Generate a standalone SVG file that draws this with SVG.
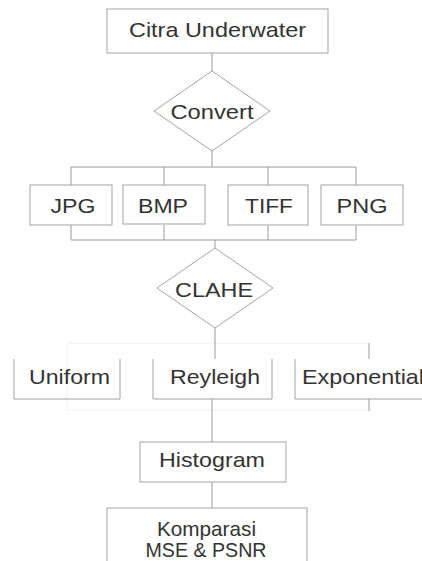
<svg xmlns="http://www.w3.org/2000/svg" width="422" height="561" viewBox="0 0 422 561">
<style>
.b{fill:#fff;stroke:#a3a3a3;stroke-width:1}
.e{fill:none;stroke:#a3a3a3;stroke-width:1}
.c{fill:none;stroke:#9a9a9a;stroke-width:1}
.f{fill:none;stroke:#f0f0f0;stroke-width:1}
text{font-family:"Liberation Sans",Arial,sans-serif;font-size:21px;fill:#333;text-anchor:middle}
</style>
<rect width="422" height="561" fill="#fff"/>
<g id="connectors">
<path class="c" d="M212 53V71M212 151V167M71 167H356M71 167V185M164 167V185M268 167V185M356 167V185"/>
<path class="c" d="M71 225V240M164 225V240M268 225V240M356 225V240M71 240H356M215 240V248"/>
<path class="f" d="M67 343H369M67 343V410M67 410H369"/>
<path class="c" d="M215 328V359M369 343V359M369 399V411M212 399V442M212 482V508"/>
</g>
<g id="citra"><rect class="b" x="107" y="9" width="221" height="44"/><text x="217.5" y="37" textLength="177" lengthAdjust="spacingAndGlyphs">Citra Underwater</text></g>
<g id="convert"><polygon class="b" points="212,71 270,111 212,151 154,111"/><text x="212" y="119" textLength="83" lengthAdjust="spacingAndGlyphs">Convert</text></g>
<g id="jpg"><rect class="b" x="30" y="185" width="82" height="40"/><text x="73" y="213" textLength="45" lengthAdjust="spacingAndGlyphs">JPG</text></g>
<g id="bmp"><rect class="b" x="123" y="185" width="82" height="39"/><text x="163" y="213" textLength="50" lengthAdjust="spacingAndGlyphs">BMP</text></g>
<g id="tiff"><rect class="b" x="228" y="185" width="80" height="40"/><text x="269" y="213" textLength="48" lengthAdjust="spacingAndGlyphs">TIFF</text></g>
<g id="png"><rect class="b" x="321" y="185" width="82" height="40"/><text x="362" y="213" textLength="51" lengthAdjust="spacingAndGlyphs">PNG</text></g>
<g id="clahe"><polygon class="b" points="215,248 273,288 215,328 157,288"/><text x="214" y="297" textLength="78" lengthAdjust="spacingAndGlyphs">CLAHE</text></g>
<g id="uniform"><path class="e" d="M14 359V399H120V359"/><text x="69.5" y="384" textLength="81" lengthAdjust="spacingAndGlyphs">Uniform</text></g>
<g id="reyleigh"><path class="e" d="M153 359V399H272V359"/><text x="215" y="384" textLength="90" lengthAdjust="spacingAndGlyphs">Reyleigh</text></g>
<g id="exponential"><path class="e" d="M295 359V399H422"/><text x="302" y="384" style="text-anchor:start" textLength="122" lengthAdjust="spacingAndGlyphs">Exponential</text></g>
<g id="histogram"><rect class="b" x="140" y="442" width="146" height="40"/><text x="212" y="467" textLength="106" lengthAdjust="spacingAndGlyphs">Histogram</text></g>
<g id="komparasi"><rect class="b" x="107" y="508" width="200" height="60"/><text x="206.5" y="536" textLength="99" lengthAdjust="spacingAndGlyphs">Komparasi</text><text x="206" y="557" textLength="121" lengthAdjust="spacingAndGlyphs">MSE &amp; PSNR</text></g>
</svg>
